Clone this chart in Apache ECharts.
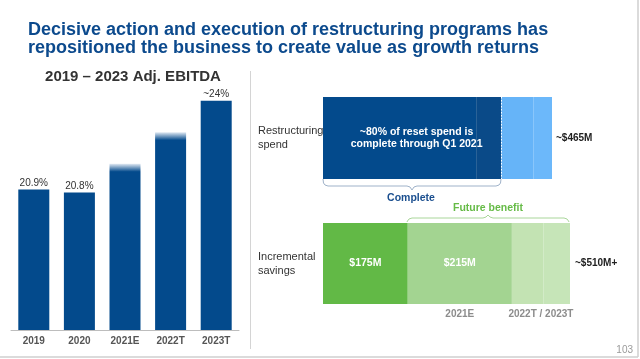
<!DOCTYPE html>
<html>
<head>
<meta charset="utf-8">
<script src="https://cdn.jsdelivr.net/npm/echarts@6/dist/echarts.min.js"></script>
<style>
html,body{margin:0;padding:0;background:#fff;}
#chart{width:640px;height:359px;}
</style>
</head>
<body>
<div id="chart"></div>
<script>
// ---- data ----
const categories = ['2019', '2020', '2021E', '2022T', '2023T'];
const ebitdaMargin = [20.9, 20.8, 21.8, 22.9, 24.0];
const ebitdaLabels = ['20.9%', '20.8%', '', '', '~24%'];
const fadedTop = [false, false, true, true, false];

const spendRows = ['Restructuring\nspend'];
const spendSegments = [311, 51, 65, 38];          // $M, total ~465
const spendColors = ['#034a8c', '#0a4a88', '#66b4f8', '#6cb8fa'];
const spendTotalLabel = '~$465M';
const spendInsideText = '~80% of reset spend is\ncomplete through Q1 2021';

const savingsRows = ['Incremental\nsavings'];
const savingsSegments = [175, 215, 65, 55];       // $M, total ~510
const savingsColors = ['#62b946', '#a3d491', '#c3e3b3', '#c6e5b8'];
const savingsSegmentLabels = ['$175M', '$215M', '', ''];
const savingsTotalLabel = '~$510M+';
const periodValues = [175, 215, 120];
const periodLabels = ['', '2021E', '2022T / 2023T'];

const FONT = "'Liberation Sans', Arial, sans-serif";
const BLUE = '#034a8c';

const chart = echarts.init(document.getElementById('chart'), null, {renderer: 'canvas'});

const series = [];
// left chart
series.push({
  type: 'bar', xAxisIndex: 0, yAxisIndex: 0, barWidth: 31,
  data: ebitdaMargin.map((v, i) => {
    const h = (v - 16) / 9 * 258;
    return {
      value: v,
      itemStyle: {
        color: fadedTop[i] ? {
          type: 'linear', x: 0, y: 0, x2: 0, y2: 1,
          colorStops: [
            {offset: 0, color: '#e3ebf4'},
            {offset: 8 / h, color: BLUE},
            {offset: 1, color: BLUE}
          ]
        } : BLUE
      }
    };
  }),
  label: {
    show: true, position: 'top', distance: 1,
    formatter: p => ebitdaLabels[p.dataIndex],
    fontFamily: FONT, fontSize: 10, color: '#333'
  }
});
// spend bar
spendSegments.forEach((v, i) => {
  const s = {
    type: 'bar', xAxisIndex: 1, yAxisIndex: 1, stack: 'spend', barCategoryGap: '0%',
    data: [v], itemStyle: {color: spendColors[i]}, silent: true
  };
  if (i === 0) s.label = {show: true, position: 'inside', offset: [17, 0], formatter: spendInsideText,
    color: '#fff', fontFamily: FONT, fontWeight: 'bold', fontSize: 10.5, lineHeight: 12, align: 'center'};
  if (i === spendSegments.length - 1) s.label = {show: true, position: 'right', distance: 4,
    formatter: spendTotalLabel, color: '#222', fontFamily: FONT, fontWeight: 'bold', fontSize: 10};
  series.push(s);
});
// savings bar
savingsSegments.forEach((v, i) => {
  const s = {
    type: 'bar', xAxisIndex: 2, yAxisIndex: 2, stack: 'savings', barCategoryGap: '0%', barGap: '-100%',
    data: [v], itemStyle: {color: savingsColors[i]}, silent: true
  };
  if (savingsSegmentLabels[i]) s.label = {show: true, position: 'inside', formatter: savingsSegmentLabels[i],
    color: '#fff', fontFamily: FONT, fontWeight: 'bold', fontSize: 10.5};
  if (i === savingsSegments.length - 1) s.label = {show: true, position: 'right', distance: 5,
    formatter: savingsTotalLabel, color: '#222', fontFamily: FONT, fontWeight: 'bold', fontSize: 10};
  series.push(s);
});
// period labels under savings (transparent overlay)
periodValues.forEach((v, i) => {
  series.push({
    type: 'bar', xAxisIndex: 2, yAxisIndex: 2, stack: 'periods', barCategoryGap: '0%', barGap: '-100%',
    data: [v], itemStyle: {color: 'rgba(0,0,0,0)'}, silent: true, z: 1,
    label: {show: !!periodLabels[i], position: 'bottom', distance: 5, formatter: periodLabels[i],
      color: '#8c8c8c', fontFamily: FONT, fontWeight: 'bold', fontSize: 10}
  });
});

const hiddenValueAxis = (idx, max) => ({type: 'value', gridIndex: idx, min: 0, max: max, show: false});
const rowAxis = (idx, data, padTop) => ({
  type: 'category', gridIndex: idx, data: data,
  axisLine: {show: false}, axisTick: {show: false},
  axisLabel: {align: 'left', margin: 65, fontFamily: FONT, fontSize: 11, color: '#333', lineHeight: 14,
    padding: [padTop, 0, 0, 0]}
});

// brace helper (decorative annotation shape)
function brace(x1, x2, yEdge, yLine, yTip, tipX) {
  const d = yLine > yEdge ? 1 : -1;
  return [
    [x1, yEdge], [x1 + 0.5, yLine - 3 * d], [x1 + 2, yLine - 1 * d], [x1 + 5, yLine],
    [tipX - 5, yLine], [tipX - 2, yLine + 1 * d], [tipX, yTip],
    [tipX + 2, yLine + 1 * d], [tipX + 5, yLine],
    [x2 - 5, yLine], [x2 - 2, yLine - 1 * d], [x2 - 0.5, yLine - 3 * d], [x2, yEdge]
  ];
}

const option = {
  animation: false,
  backgroundColor: '#fff',
  title: {
    text: 'Decisive action and execution of restructuring programs has\nrepositioned the business to create value as growth returns',
    left: 23, top: 16,
    textStyle: {fontFamily: FONT, fontWeight: 'bold', fontSize: 18, lineHeight: 18, color: '#0c4a8d'}
  },
  grid: [
    {left: 11, top: 72, width: 228, height: 258},
    {left: 323, top: 97, width: 229, height: 82},
    {left: 323, top: 223, width: 247, height: 81}
  ],
  xAxis: [
    {type: 'category', gridIndex: 0, data: categories,
      axisLine: {lineStyle: {color: '#bdbdbd'}}, axisTick: {show: false},
      axisLabel: {margin: 6, fontFamily: FONT, fontWeight: 'bold', fontSize: 10, color: '#555'}},
    hiddenValueAxis(1, spendSegments.reduce((a, b) => a + b, 0)),
    hiddenValueAxis(2, 510)
  ],
  yAxis: [
    {type: 'value', gridIndex: 0, min: 16, max: 25, show: false},
    rowAxis(1, spendRows, 6),
    rowAxis(2, savingsRows, 0)
  ],
  series: series,
  graphic: [
    {type: 'text', x: 133, y: 77, style: {text: '2019 – 2023 Adj. EBITDA', fontFamily: FONT, fontWeight: 'bold',
      fontSize: 15, fill: '#333', align: 'center', verticalAlign: 'middle'}},
    {type: 'line', shape: {x1: 250.5, y1: 71, x2: 250.5, y2: 349}, style: {stroke: '#d4d4d4', lineWidth: 1}},
    {type: 'line', shape: {x1: 0, y1: 357, x2: 638, y2: 357}, style: {stroke: '#cfcfcf', lineWidth: 1.5}},
    {type: 'line', shape: {x1: 638, y1: 0, x2: 638, y2: 357}, style: {stroke: '#cfcfcf', lineWidth: 1.5}},
    {type: 'line', shape: {x1: 501.5, y1: 97, x2: 501.5, y2: 179}, style: {stroke: '#fff', lineWidth: 1, lineDash: [1.5, 1.5]}, z: 100},
    {type: 'polyline', shape: {points: brace(323, 501, 179, 186, 190, 412)},
      style: {stroke: '#9fb2c9', fill: null, lineWidth: 1}},
    {type: 'text', x: 411, y: 198, style: {text: 'Complete', fontFamily: FONT, fontWeight: 'bold', fontSize: 10.5,
      fill: '#1b4f8f', align: 'center', verticalAlign: 'middle'}},
    {type: 'polyline', shape: {points: brace(407, 569, 222, 218, 215, 488)},
      style: {stroke: '#a9d69a', fill: null, lineWidth: 1}},
    {type: 'text', x: 488, y: 208, style: {text: 'Future benefit', fontFamily: FONT, fontWeight: 'bold', fontSize: 10.5,
      fill: '#66bb47', align: 'center', verticalAlign: 'middle'}},
    {type: 'text', x: 633, y: 350, style: {text: '103', fontFamily: FONT, fontSize: 10, fill: '#9a9a9a',
      align: 'right', verticalAlign: 'middle'}}
  ]
};
chart.setOption(option);
</script>
</body>
</html>
